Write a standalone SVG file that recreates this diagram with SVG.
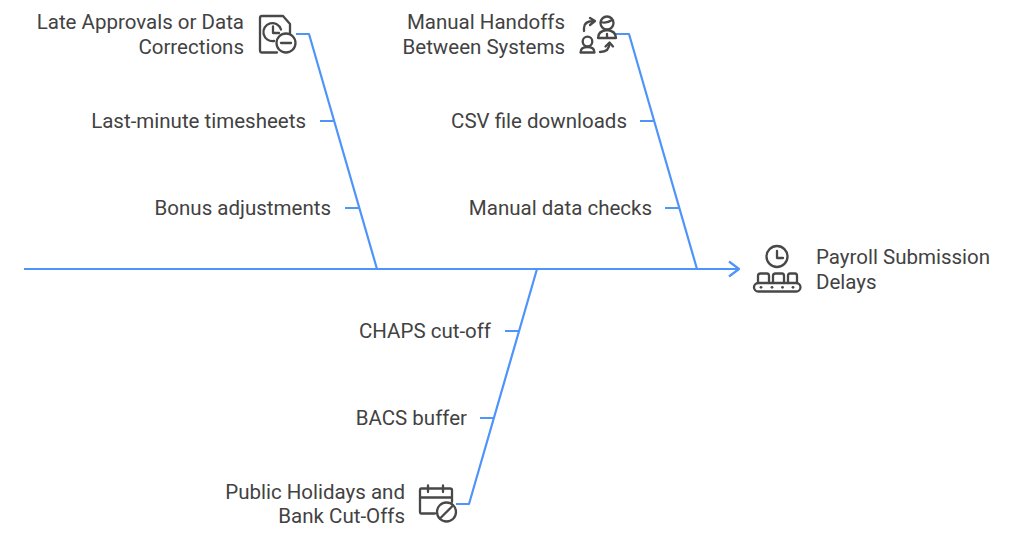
<svg xmlns="http://www.w3.org/2000/svg" width="1024" height="553" viewBox="0 0 1024 553">
<style>
.t{font-family:Roboto,"Liberation Sans",sans-serif;font-size:20.5px;fill:#424242}
.e{text-anchor:end}
.c{fill:none;stroke:#4f94fb;stroke-width:2.2;stroke-linejoin:round}
.i{fill:none;stroke:#484848;stroke-width:2.3;stroke-linecap:round;stroke-linejoin:round}
.d{fill:#484848}
</style>
<rect width="1024" height="553" fill="#fff"/>
<g id="connectors">
<path class="c" d="M24 269H739M729 261.500L739 269L729 276.500"/>
<path class="c" d="M296 34H309L377 269"/>
<path class="c" d="M616 34H629L697 269"/>
<path class="c" d="M456 504H469L537 269"/>
<path class="c" d="M320 121H334M345 208H359M640 121H654M665 208H679M505 331H519M480 418H494"/>
</g>
<g id="late-approvals">
<text class="t e" x="244" y="29">Late Approvals or Data</text>
<text class="t e" x="244" y="54">Corrections</text>
<path class="i" d="M277 52.500H262Q260 52.500 260 50.500V18Q260 16 262 16H283L290 24V33"/>
<path class="i" d="M274 41A9 9 0 1 1 281 29.500M273 26.500V33H279"/>
<circle class="i" cx="286" cy="43" r="9.500"/>
<path class="i" d="M281 43H291"/>
</g>
<g id="last-minute"><text class="t e" x="306" y="128">Last-minute timesheets</text></g>
<g id="bonus"><text class="t e" x="331" y="215">Bonus adjustments</text></g>
<g id="manual-handoffs">
<text class="t e" x="565" y="29">Manual Handoffs</text>
<text class="t e" x="565" y="54">Between Systems</text>
<path class="i" d="M584 31V28Q584 21 594 21M590 18L595 21L590 25"/>
<circle class="i" cx="607" cy="23" r="6.500"/>
<path class="i" d="M601 22Q606 24 612 20M598 38Q598 31 607 30Q616 31 616 38ZM607 34V38"/>
<circle class="i" cx="587.500" cy="41.500" r="4.800"/>
<path class="i" d="M580.500 52.500Q580.500 47 587.500 47Q594.500 47 594.500 52.500Z"/>
<path class="i" d="M600 52Q609.500 52 609.500 43M605.500 46.500L609.500 42.500L613 46.500"/>
</g>
<g id="csv"><text class="t e" x="627" y="128">CSV file downloads</text></g>
<g id="manual-checks"><text class="t e" x="652" y="215">Manual data checks</text></g>
<g id="chaps"><text class="t e" x="491" y="338">CHAPS cut-off</text></g>
<g id="bacs"><text class="t e" x="467" y="425">BACS buffer</text></g>
<g id="public-holidays">
<text class="t e" x="405" y="499">Public Holidays and</text>
<text class="t e" x="405" y="523">Bank Cut-Offs</text>
<path class="i" d="M435 513.500H421Q420 513.500 420 512V490Q420 488.500 421 488.500H450Q452 488.500 452 490V502M420 497.500H452M428 485.500V492M443 485.500V492"/>
<circle class="i" cx="446.500" cy="512" r="9.500"/>
<path class="i" d="M440 518.500L453 505.500"/>
</g>
<g id="payroll">
<text class="t" x="816" y="264">Payroll Submission</text>
<text class="t" x="816" y="289">Delays</text>
<circle class="i" cx="777" cy="256.500" r="10.500"/>
<path class="i" d="M777 251V258H783"/>
<rect class="i" x="754" y="283" width="46.500" height="8.500" rx="4.250"/>
<path class="i" d="M758 283V276Q758 273.500 760.500 273.500H767Q769 273.500 769 276V283M773 283V276Q773 273.500 775.500 273.500H782Q784 273.500 784 276V283M788 283V276Q788 273.500 790 273.500H795Q797 273.500 797 276V283"/>
<circle class="d" cx="761" cy="287.300" r="1.400"/><circle class="d" cx="772" cy="287.300" r="1.400"/><circle class="d" cx="782.500" cy="287.300" r="1.400"/><circle class="d" cx="793" cy="287.300" r="1.400"/>
</g>
</svg>
